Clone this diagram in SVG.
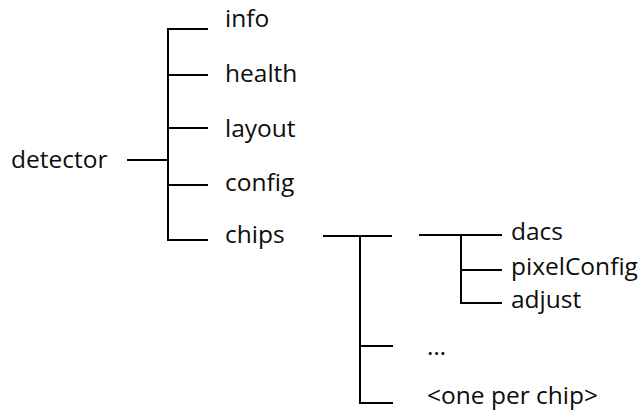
<svg xmlns="http://www.w3.org/2000/svg" width="640" height="410" viewBox="0 0 640 410">
  <style>
    .lbl { font-family: "Open Sans", "Liberation Sans", sans-serif; font-size: 24.5px; fill: #0d0d0d; }
    .wire { fill: none; stroke: #000; stroke-width: 2; stroke-linejoin: miter; stroke-linecap: butt; }
  </style>
  <rect width="640" height="410" fill="#fff"/>

  <!-- tree connectors -->
  <g id="connectors">
    <!-- detector to its children -->
    <path class="wire" d="M127 160 H168"/>
    <path class="wire" d="M208 29 H168 V240 H208"/>
    <path class="wire" d="M168 75 H208 M168 128 H208 M168 185 H208"/>
    <!-- chips to each chip -->
    <path class="wire" d="M323 236 H392 M360 236 V403 H393 M360 346 H393"/>
    <!-- chip to its children -->
    <path class="wire" d="M419 235 H502 M461 235 V303 H502 M461 270 H502"/>
  </g>

  <g id="detector"><text class="lbl" x="11" y="168">detector</text></g>
  <g id="info"><text class="lbl" x="225" y="27">info</text></g>
  <g id="health"><text class="lbl" x="225" y="82">health</text></g>
  <g id="layout"><text class="lbl" x="225" y="137">layout</text></g>
  <g id="config"><text class="lbl" x="225" y="191">config</text></g>
  <g id="chips"><text class="lbl" x="225" y="243">chips</text></g>
  <g id="dacs"><text class="lbl" x="511" y="240">dacs</text></g>
  <g id="pixelConfig"><text class="lbl" x="511" y="275">pixelConfig</text></g>
  <g id="adjust"><text class="lbl" x="511" y="308">adjust</text></g>
  <g id="more"><text class="lbl" x="427" y="355">…</text></g>
  <g id="per-chip"><text class="lbl" x="427" y="404">&lt;one per chip&gt;</text></g>
</svg>
